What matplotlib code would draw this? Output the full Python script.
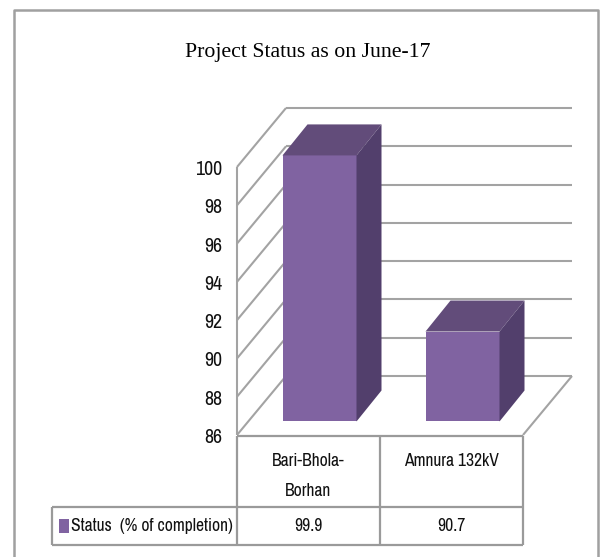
import matplotlib
matplotlib.use("Agg")
import matplotlib.pyplot as plt
from matplotlib import font_manager
from matplotlib.patches import Polygon, Rectangle

categories = ["Bari-Bhola-\nBorhan", "Amnura 132kV"]
values = [99.9, 90.7]
ticks = [86, 88, 90, 92, 94, 96, 98, 100]
series_name = "Status  (% of completion)"
title = "Project Status as on June-17"

W, H = 604, 557

# the reference text is condensed, use a narrow face if there is one
names = sorted({f.name for f in font_manager.fontManager.ttflist})
narrow_names = [n for n in names if "Narrow" in n or "Condensed" in n]
if narrow_names:
    label_font = narrow_names[0]
    scale = 1.15
else:
    label_font = "Lato"
    scale = 1.0

fig = plt.figure(figsize=(W / 100, H / 100), dpi=100)

# front plane of the 3d box, 237-523 px across, 86-100 from y=435 up to y=167
ax = fig.add_axes([237 / W, 1 - 435 / H, 286 / W, 268 / H])
ax.set_xlim(0, 2)
ax.set_ylim(86, 100)
ax.axis("off")

unit_x = 286 / 2
unit_y = 268 / 14
depth_x = 49 / unit_x
depth_y = 59 / unit_y
grid = "#a3a3a3"
line = dict(color=grid, lw=1.5, clip_on=False, solid_capstyle="butt")

# walls and floor
for t in ticks:
    ax.plot([0, depth_x], [t, t + depth_y], zorder=1, **line)
    ax.plot([depth_x, 2 + depth_x], [t + depth_y, t + depth_y], zorder=1, **line)
    ax.text(-0.105, t - 0.13, str(t), ha="right", va="center", fontsize=12.5 * scale,
            family=label_font, color="#111111")
ax.plot([0, 0], [86, 100], zorder=1, **line)
ax.plot([2, 2 + depth_x], [86, 86 + depth_y], zorder=1, **line)

# bars, sitting part way into the floor
bar_w = 74 / unit_x
off_x = 11 / unit_x
off_y = 13.5 / unit_y
bar_dx = 25 / unit_x
bar_dy = 31 / unit_y
front = "#8063a1"
top = "#624c7a"
side = "#523f6c"
for i, v in enumerate(values):
    x0 = i + 0.5 + off_x - bar_w / 2
    x1 = x0 + bar_w
    y0 = 86 + off_y
    y1 = v + off_y
    ax.add_patch(Rectangle((x0, y0), bar_w, y1 - y0, color=front, lw=0, zorder=3, clip_on=False))
    ax.add_patch(Polygon([(x0, y1), (x1, y1), (x1 + bar_dx, y1 + bar_dy), (x0 + bar_dx, y1 + bar_dy)],
                         color=top, lw=0, zorder=3, clip_on=False))
    ax.add_patch(Polygon([(x1, y0), (x1 + bar_dx, y0 + bar_dy), (x1 + bar_dx, y1 + bar_dy), (x1, y1)],
                         color=side, lw=0, zorder=3, clip_on=False))

# data table under the plot, in pixels of the figure
tb = fig.add_axes([0, 0, 1, 1], facecolor="none")
tb.set_xlim(0, W)
tb.set_ylim(H, 0)
tb.axis("off")
col_x = [237, 380, 523]
tline = dict(color="#9a9a9a", lw=1.6, solid_capstyle="butt")
tb.plot([237, 523], [436, 436], **tline)
tb.plot([52, 523], [507, 507], **tline)
tb.plot([52, 523], [545, 545], **tline)
tb.plot([52, 52], [507, 545], **tline)
for x in col_x:
    tb.plot([x, x], [436, 545], **tline)
for i, c in enumerate(categories):
    tb.text((col_x[i] + col_x[i + 1]) / 2, 453, c, ha="center", va="top", fontsize=11 * scale,
            family=label_font, linespacing=2.1, color="#111111")
    tb.text((col_x[i] + col_x[i + 1]) / 2, 526, str(values[i]), ha="center", va="center",
            fontsize=11 * scale, family=label_font, color="#111111")
tb.add_patch(Rectangle((59, 519), 10, 14, color=front, lw=0))
tb.text(71, 526, series_name, ha="left", va="center", fontsize=11 * scale, family=label_font, color="#111111")

# outer frame, open at the bottom
frame = dict(color="#a0a0a0", lw=1.8, solid_capstyle="butt")
tb.plot([14, 14, 598, 598], [H, 10, 10, H], **frame)

tb.text(308, 53, title, ha="center", va="center", fontsize=15.7, family="Liberation Serif", color="black")

fig.savefig("out.png", dpi=100)
